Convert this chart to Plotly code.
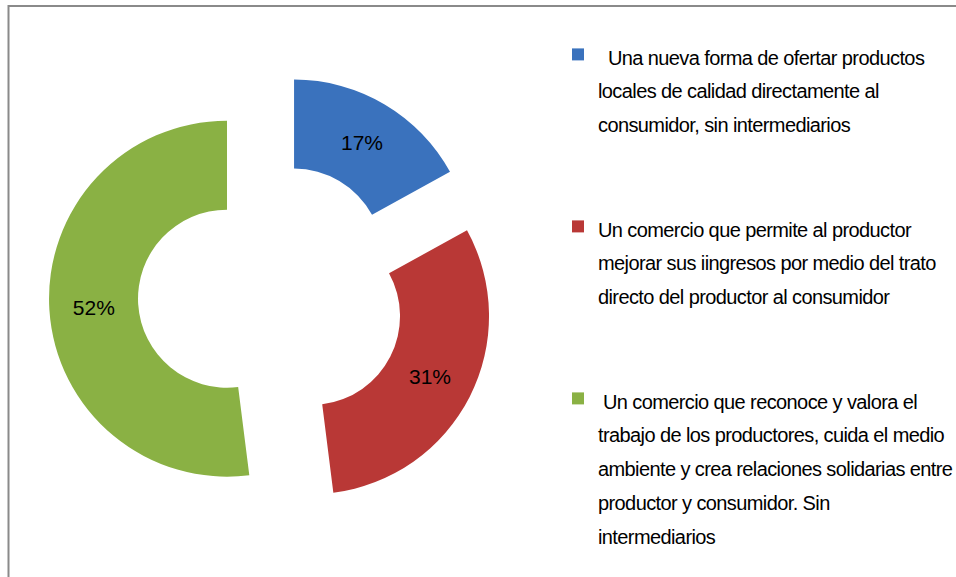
import plotly.graph_objects as go

entry_lines = [
    ["\u00a0\u00a0Una nueva forma de ofertar productos",
     "locales de calidad directamente al",
     "consumidor, sin intermediarios"],
    ["Un comercio que permite al productor",
     "mejorar sus iingresos por medio del trato",
     "directo del productor al consumidor"],
    ["\u00a0Un comercio que reconoce y valora el",
     "trabajo de los productores, cuida el medio",
     "ambiente y crea relaciones solidarias entre",
     "productor y consumidor. Sin",
     "intermediarios"],
]
values = [17, 31, 52]
colors = ["#3A72BD", "#B93836", "#8AB144"]


def make_label(lines, total=5):
    parts = ['<span style="font-size:20px;letter-spacing:-0.6px">' + ln + '</span>' for ln in lines]
    parts += [" "] * (total - len(lines))
    return "<br>".join(parts)


labels = [make_label(l) for l in entry_lines]

fig = go.Figure()
fig.add_trace(go.Pie(
    labels=labels,
    values=values,
    sort=False,
    direction="clockwise",
    rotation=0,
    hole=0.5,
    pull=[0.25, 0.25, 0.25],
    marker=dict(colors=colors, line=dict(width=0)),
    texttemplate="%{percent:.0%}",
    textposition="inside",
    insidetextorientation="horizontal",
    textfont=dict(family="Liberation Sans, Arial, sans-serif", size=21, color="#000000"),
    domain=dict(x=[0.0512, 0.5166], y=[0.1016, 0.8728]),
    hoverinfo="skip",
))

fig.update_layout(
    width=956,
    height=577,
    margin=dict(l=0, r=0, t=0, b=0, autoexpand=False),
    paper_bgcolor="white",
    plot_bgcolor="white",
    showlegend=True,
    legend=dict(
        x=558 / 956,
        y=1 - 31 / 577,
        xanchor="left",
        yanchor="top",
        valign="top",
        font=dict(family="Liberation Sans, Arial, sans-serif", size=26, color="#000000"),
        bgcolor="rgba(0,0,0,0)",
    ),
    shapes=[
        dict(type="rect", xref="paper", yref="paper",
             x0=8.5 / 956, x1=1.05, y0=-0.05, y1=1 - 6 / 577,
             line=dict(color="#8a8a8a", width=2), fillcolor="rgba(0,0,0,0)", layer="below"),
    ],
)

fig.write_html(
    "out.html",
    config={"displayModeBar": False},
    post_script="document.body.style.margin='0px';document.body.style.overflow='hidden';",
)
